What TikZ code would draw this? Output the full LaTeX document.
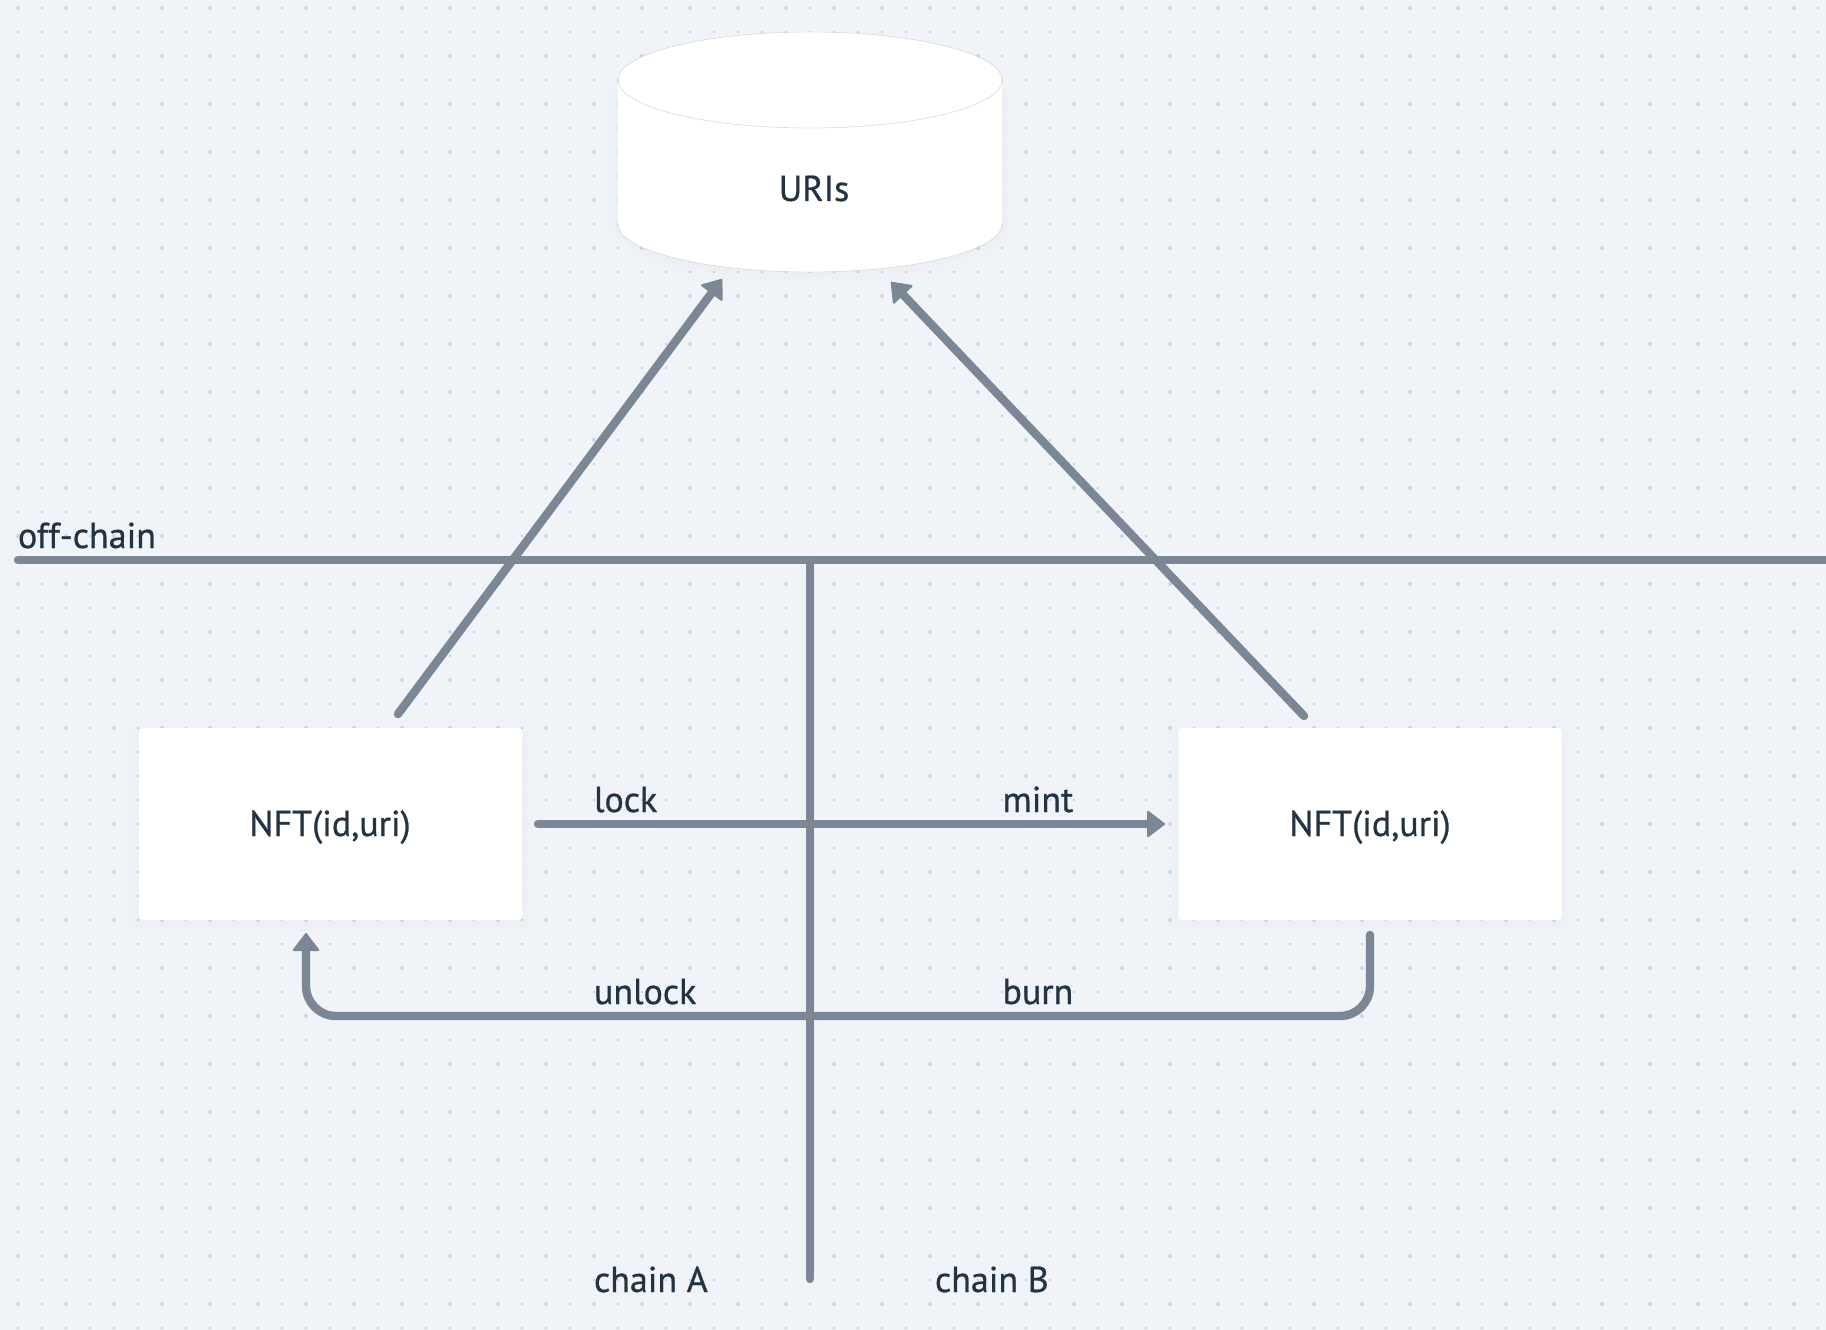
\documentclass[tikz,border=0pt]{standalone}
\usepackage{fontspec}
\setmainfont{PT Sans}[RawFeature={embolden=0.7}]
\usetikzlibrary{arrows.meta}
\definecolor{bgc}{HTML}{F0F4F8}
\definecolor{dotsm}{HTML}{C8CED7}
\definecolor{dotlg}{HTML}{CDD6E2}
\definecolor{linec}{HTML}{7B8794}
\definecolor{textc}{HTML}{243342}
\tikzset{
  x=0.75pt,y=-0.75pt,
  conn/.style={draw=linec,line width=6.3pt,line cap=round,line join=round},
  tipped/.style={conn,-{Triangle[length=14pt,width=21pt,round,line width=1.5pt,line join=round]}},
  label/.style={anchor=base west,inner sep=0pt,outer sep=0pt,text=textc,font=\fontsize{27}{32}\selectfont},
  boxtext/.style={anchor=base,text=textc,font=\fontsize{27}{32}\selectfont,inner sep=0pt},
  nftbox/.style={fill=white,rounded corners=3pt,minimum width=287.5pt,minimum height=144pt,inner sep=0pt},
}
\begin{document}
\begin{tikzpicture}
\useasboundingbox (0,0) rectangle (1826,1330);
\fill[bgc] (0,0) rectangle (1826,1330);
% dot grid
\foreach \j in {0,...,55}{
  \foreach \i in {0,...,75}{
    \pgfmathtruncatemacro{\big}{(mod(\j,2)==0)&&(mod(\i,2)==0)}
    \pgfmathsetmacro{\px}{18+24*\i}
    \pgfmathsetmacro{\py}{8+24*\j}
    \ifnum\big=1
      \fill[dotlg] (\px,\py) circle (1.5pt);
    \else
      \fill[dotsm] (\px-1.3,\py-1.3) rectangle (\px+1.3,\py+1.3);
    \fi
  }
}
% soft shadows
\foreach \o in {14,9,5,2}{
  \fill[black,opacity=0.005,rounded corners=6pt] (139-\o,728-\o+6) rectangle (522+\o,920+\o+3);
  \fill[black,opacity=0.005,rounded corners=6pt] (1178-\o,728-\o+6) rectangle (1562+\o,920+\o+3);
  \fill[black,opacity=0.005] (618-\o,90) -- (1002+\o,90) -- (1002+\o,226) arc[start angle=0,end angle=180,x radius=192+\o,y radius=48+\o] -- cycle;
}
% database cylinder
\fill[white] (618,80) -- (1002,80) -- (1002,224) arc[start angle=0,end angle=180,x radius=192,y radius=48] -- cycle;
\draw[black!20,line width=0.3pt] (1002,224) arc[start angle=0,end angle=180,x radius=192,y radius=48];
\draw[black!16,line width=1.2pt] (618,83) arc[start angle=180,end angle=360,x radius=192,y radius=48];
\fill[white,draw=black!20,line width=0.3pt] (810,80) ellipse[x radius=192,y radius=48];
\node[boxtext] (uris) at (814,201) {URIs};
\coordinate (dbL) at (722,279);
\coordinate (dbR) at (891,282);
% boxes
\node[nftbox] (nftA) at (330.5,824) {};
\node[nftbox] (nftB) at (1370,824) {};
\node[boxtext] (nftAtext) at (330,836) {NFT(id,uri)};
\node[boxtext] (nftBtext) at (1370,836) {NFT(id,uri)};
% helper ends
\coordinate (offL) at (18,560);
\coordinate (offR) at (1840,560);
\coordinate (axisT) at (810,560);
\coordinate (axisB) at (810,1279);
\coordinate (aStart) at (398,714);
\coordinate (bStart) at (1304,716);
\coordinate (lockS) at (538,824);
\coordinate (mintE) at (1165,824);
\coordinate (burnS) at (1370,935);
\coordinate (burnC) at (1370,1016);
\coordinate (unlC) at (306,1016);
\coordinate (unlE) at (306,933);
% connectors
\draw[conn] (offL) -- (offR);
\draw[conn] (axisT) -- (axisB);
\draw[tipped] (aStart) -- (dbL);
\draw[tipped] (bStart) -- (dbR);
\draw[tipped] (lockS) -- (mintE);
\draw[tipped,rounded corners=22.5pt] (burnS) -- (burnC) -- (unlC) -- (unlE);
% labels
\node[label] (off) at (18,548) {off-chain};
\node[label] (lock) at (594,812) {lock};
\node[label] (mint) at (1002.5,812) {mint};
\node[label] (unlock) at (594,1004) {unlock};
\node[label] (burn) at (1002.5,1004) {burn};
\node[label] (chainA) at (594,1292) {chain A};
\node[label] (chainB) at (935,1292) {chain B};
\end{tikzpicture}
\end{document}
